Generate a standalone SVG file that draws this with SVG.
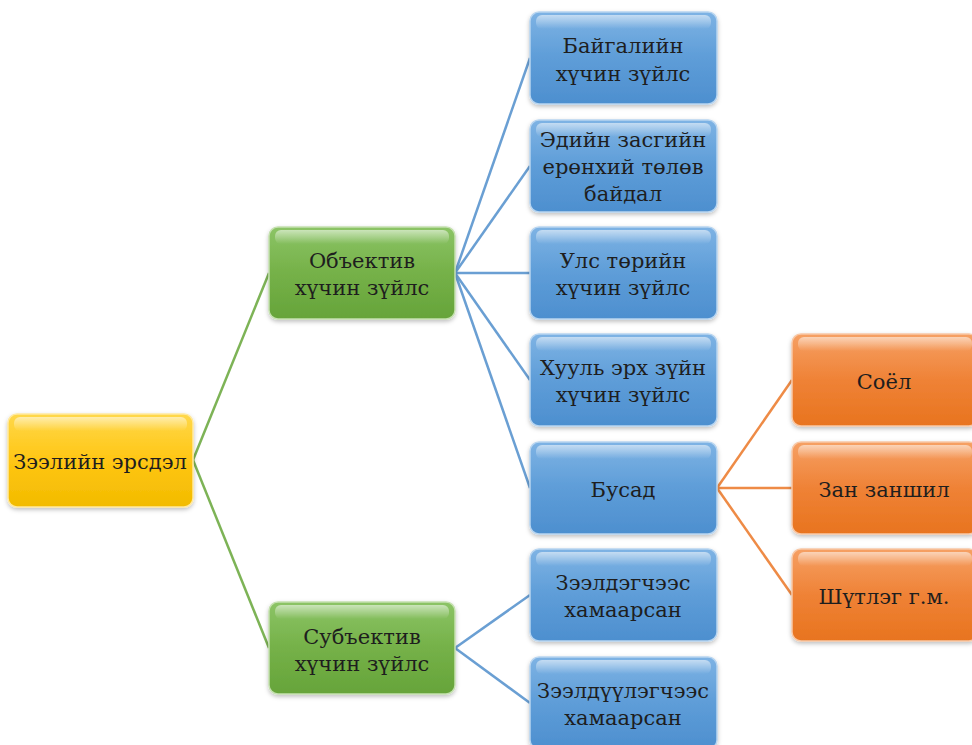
<svg xmlns="http://www.w3.org/2000/svg" width="972" height="745" viewBox="0 0 972 745">
<defs>
<linearGradient id="gy" x1="0" y1="0" x2="0" y2="1"><stop offset="0" stop-color="#FFD84A"/><stop offset="0.5" stop-color="#FFC613"/><stop offset="1" stop-color="#F2BB00"/></linearGradient>
<linearGradient id="gg" x1="0" y1="0" x2="0" y2="1"><stop offset="0" stop-color="#8CC466"/><stop offset="0.5" stop-color="#75B148"/><stop offset="1" stop-color="#66A43A"/></linearGradient>
<linearGradient id="gb" x1="0" y1="0" x2="0" y2="1"><stop offset="0" stop-color="#7EB3E4"/><stop offset="0.5" stop-color="#5E9DD8"/><stop offset="1" stop-color="#4D8FCF"/></linearGradient>
<linearGradient id="go" x1="0" y1="0" x2="0" y2="1"><stop offset="0" stop-color="#F6A064"/><stop offset="0.5" stop-color="#EF8236"/><stop offset="1" stop-color="#E8741F"/></linearGradient>
<linearGradient id="hl" x1="0" y1="0" x2="0" y2="1"><stop offset="0" stop-color="#fff" stop-opacity="0.55"/><stop offset="1" stop-color="#fff" stop-opacity="0"/></linearGradient>
<filter id="sh" x="-10%" y="-10%" width="120%" height="130%"><feDropShadow dx="0" dy="2" stdDeviation="2" flood-color="#000" flood-opacity="0.25"/></filter>
</defs>
<style>
.n rect.b{filter:url(#sh);stroke-width:1.5}
.y{fill:url(#gy);stroke:#FFE9A0}
.g{fill:url(#gg);stroke:#C5E0B0}
.bl{fill:url(#gb);stroke:#B8D5F0}
.o{fill:url(#go);stroke:#F8C8A6}
.h{fill:url(#hl)}
.t text{font-family:"DejaVu Serif",serif;font-size:21px;fill:#1E1E1E;text-anchor:middle}
.c line{stroke-width:2.5;fill:none}
.cg{stroke:#7DB356}
.cb{stroke:#6A9FD3}
.co{stroke:#EE8B46}
</style>
<g class="c" id="connectors">
<line class="cg" x1="193" y1="460" x2="269" y2="273"/>
<line class="cg" x1="193" y1="460" x2="269" y2="648"/>
<line class="cb" x1="455" y1="273" x2="530" y2="58"/>
<line class="cb" x1="455" y1="273" x2="530" y2="166"/>
<line class="cb" x1="455" y1="273" x2="530" y2="273"/>
<line class="cb" x1="455" y1="273" x2="530" y2="380"/>
<line class="cb" x1="455" y1="273" x2="530" y2="488"/>
<line class="cb" x1="455" y1="648" x2="530" y2="595"/>
<line class="cb" x1="455" y1="648" x2="530" y2="703"/>
<line class="co" x1="717" y1="488" x2="792" y2="380"/>
<line class="co" x1="717" y1="488" x2="792" y2="488"/>
<line class="co" x1="717" y1="488" x2="792" y2="595"/>
</g>
<g class="t">
<g class="n" id="root"><rect class="b y" x="8" y="414" width="185" height="93" rx="9"/><rect class="h" x="14" y="417" width="173" height="14" rx="6"/><text x="100" y="469">Зээлийн эрсдэл</text></g>
<g class="n" id="objective"><rect class="b g" x="269" y="227" width="186" height="92" rx="9"/><rect class="h" x="275" y="230" width="174" height="14" rx="6"/><text x="362" y="268">Объектив</text><text x="362" y="295">хүчин зүйлс</text></g>
<g class="n" id="subjective"><rect class="b g" x="269" y="602" width="186" height="92" rx="9"/><rect class="h" x="275" y="605" width="174" height="14" rx="6"/><text x="362" y="644">Субъектив</text><text x="362" y="671">хүчин зүйлс</text></g>
<g class="n" id="nature"><rect class="b bl" x="530" y="12" width="187" height="92" rx="9"/><rect class="h" x="536" y="15" width="175" height="14" rx="6"/><text x="623" y="53">Байгалийн</text><text x="623" y="81">хүчин зүйлс</text></g>
<g class="n" id="economy"><rect class="b bl" x="530" y="120" width="187" height="92" rx="9"/><rect class="h" x="536" y="123" width="175" height="14" rx="6"/><text x="623" y="147">Эдийн засгийн</text><text x="623" y="174">ерөнхий төлөв</text><text x="623" y="201">байдал</text></g>
<g class="n" id="state"><rect class="b bl" x="530" y="227" width="187" height="92" rx="9"/><rect class="h" x="536" y="230" width="175" height="14" rx="6"/><text x="623" y="268">Улс төрийн</text><text x="623" y="295">хүчин зүйлс</text></g>
<g class="n" id="law"><rect class="b bl" x="530" y="334" width="187" height="92" rx="9"/><rect class="h" x="536" y="337" width="175" height="14" rx="6"/><text x="623" y="375">Хууль эрх зүйн</text><text x="623" y="402">хүчин зүйлс</text></g>
<g class="n" id="other"><rect class="b bl" x="530" y="442" width="187" height="92" rx="9"/><rect class="h" x="536" y="445" width="175" height="14" rx="6"/><text x="623" y="497">Бусад</text></g>
<g class="n" id="borrower"><rect class="b bl" x="530" y="549" width="187" height="92" rx="9"/><rect class="h" x="536" y="552" width="175" height="14" rx="6"/><text x="623" y="590">Зээлдэгчээс</text><text x="623" y="617">хамаарсан</text></g>
<g class="n" id="lender"><rect class="b bl" x="530" y="657" width="187" height="92" rx="9"/><rect class="h" x="536" y="660" width="175" height="14" rx="6"/><text x="623" y="698">Зээлдүүлэгчээс</text><text x="623" y="725">хамаарсан</text></g>
<g class="n" id="culture"><rect class="b o" x="792" y="334" width="186" height="92" rx="9"/><rect class="h" x="798" y="337" width="174" height="14" rx="6"/><text x="884" y="389">Соёл</text></g>
<g class="n" id="custom"><rect class="b o" x="792" y="442" width="186" height="92" rx="9"/><rect class="h" x="798" y="445" width="174" height="14" rx="6"/><text x="884" y="497">Зан заншил</text></g>
<g class="n" id="religion"><rect class="b o" x="792" y="549" width="186" height="92" rx="9"/><rect class="h" x="798" y="552" width="174" height="14" rx="6"/><text x="884" y="604">Шүтлэг г.м.</text></g>
</g>
</svg>
